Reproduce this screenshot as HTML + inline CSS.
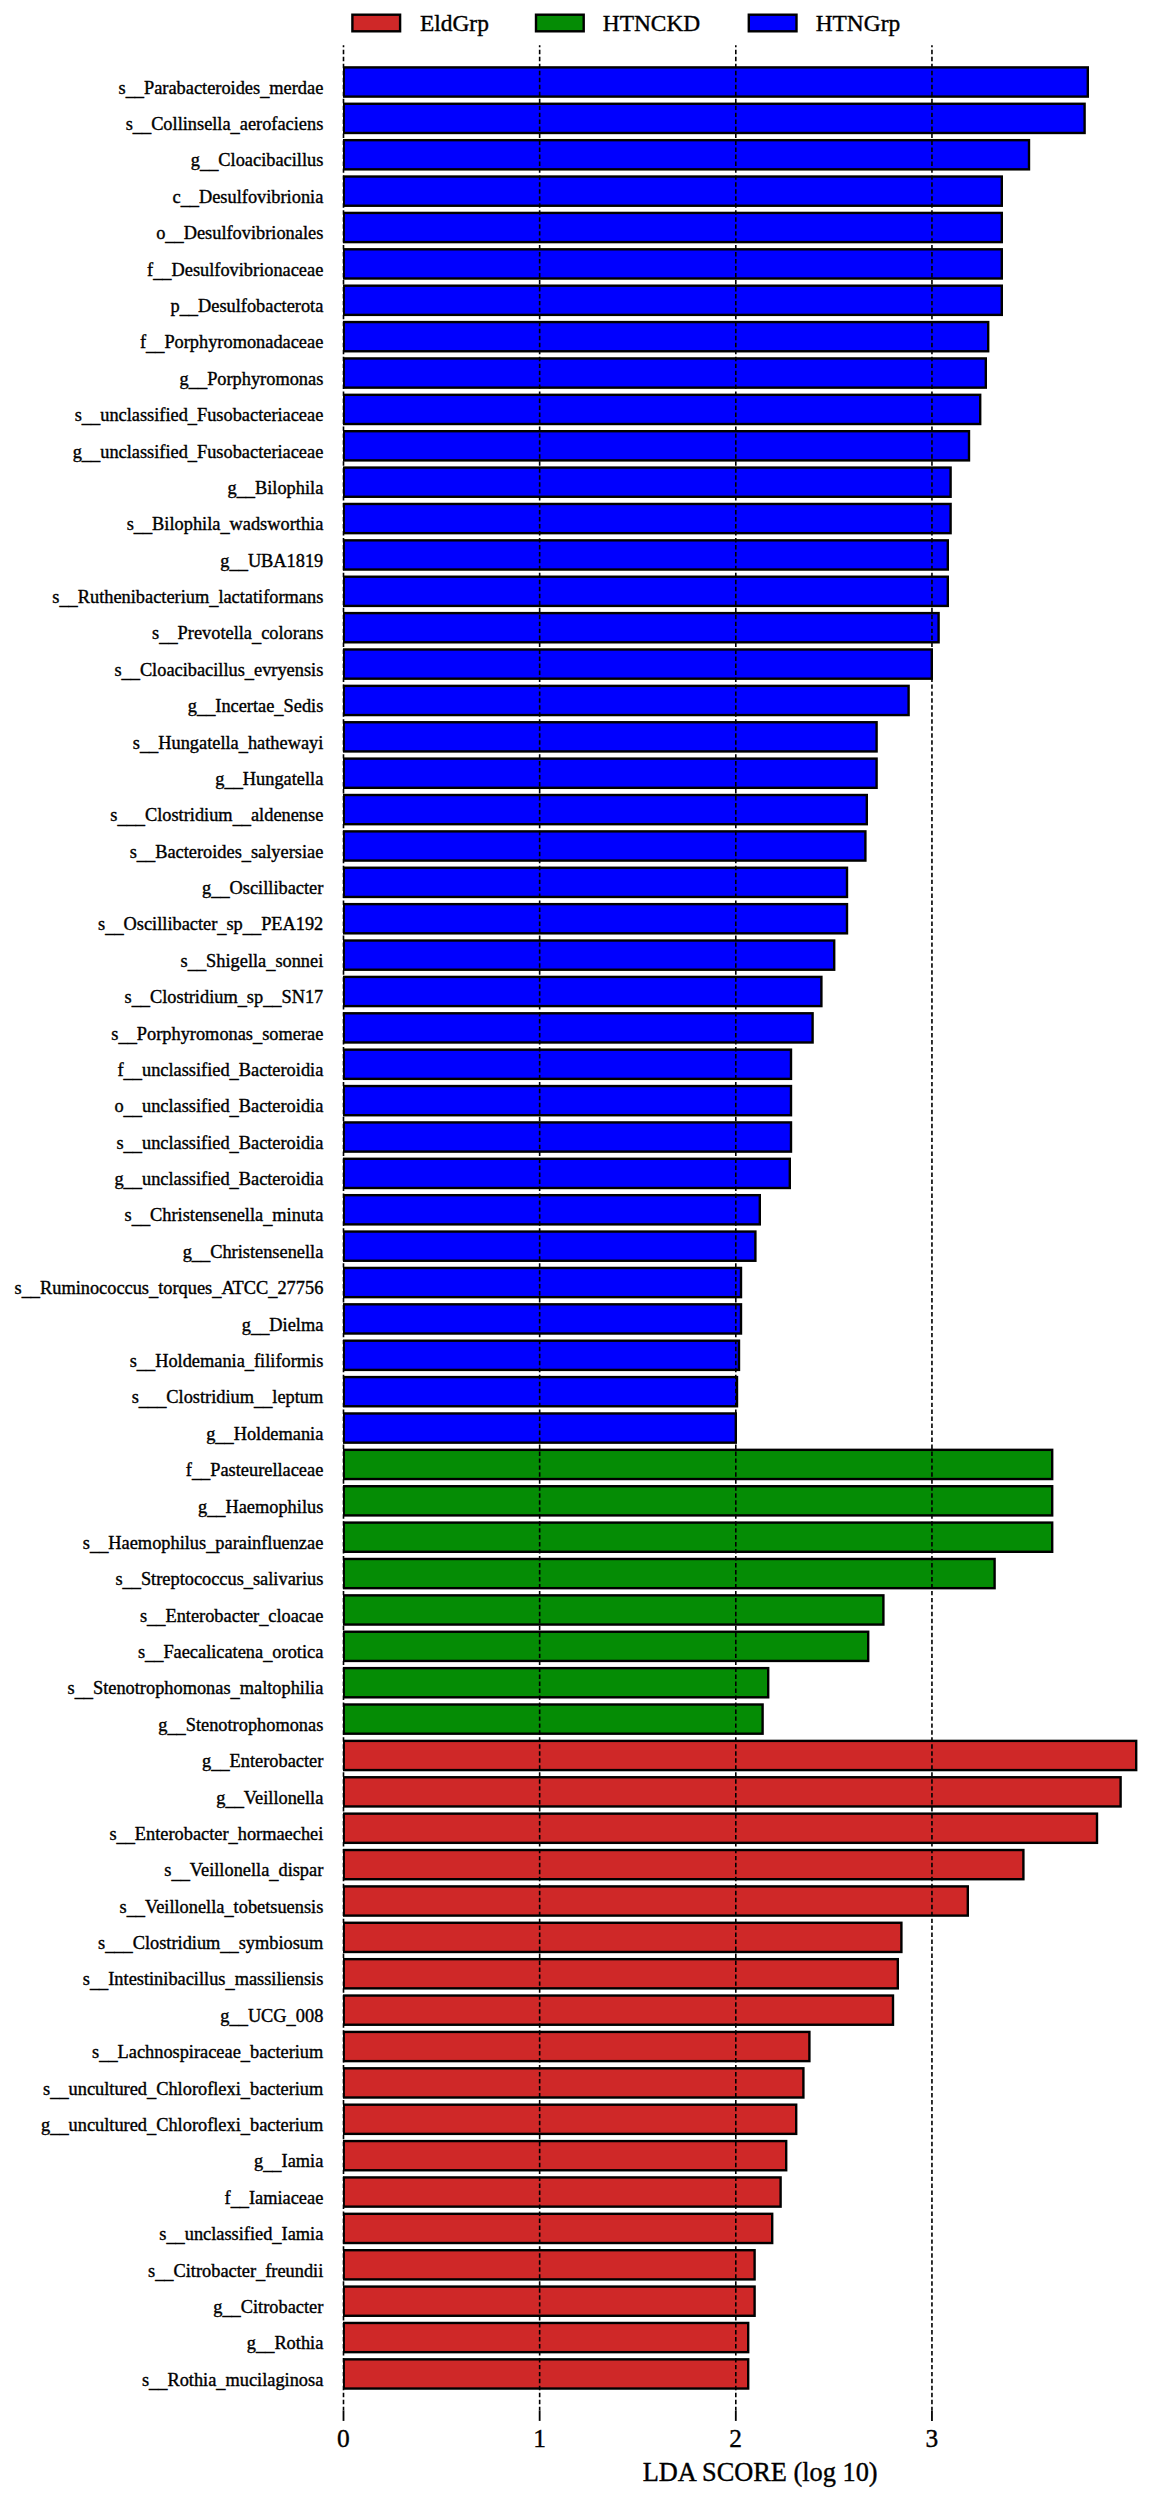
<!DOCTYPE html>
<html lang="en"><head><meta charset="utf-8"><title>LDA SCORE (log 10)</title>
<style>html,body{margin:0;padding:0;background:#fff}svg{display:block}text{font-family:"Liberation Serif","Times New Roman",serif;fill:#000;stroke:#000;stroke-width:.38}.l{font-size:18.35px;text-anchor:end}.t{font-size:25.4px;text-anchor:middle}.g{font-size:23.4px}.a{font-size:26.35px;text-anchor:middle}.b{stroke:#000;stroke-width:2.4}.d{stroke:#000;stroke-width:1.6;stroke-dasharray:4.45 2.523;stroke-dashoffset:2.4;fill:none}.k{stroke:#000;stroke-width:1.8}</style></head><body>
<svg width="1150" height="2500" viewBox="0 0 1150 2500">
<rect width="1150" height="2500" fill="#fff"/>
<defs><clipPath id="c"><rect x="343" y="0" width="810" height="2500"/></clipPath></defs><g clip-path="url(#c)">
<rect class="b" x="343.70" y="67.40" width="744.10" height="29.20" fill="#0000ff"/>
<rect class="b" x="343.70" y="103.78" width="740.90" height="29.20" fill="#0000ff"/>
<rect class="b" x="343.70" y="140.16" width="685.30" height="29.20" fill="#0000ff"/>
<rect class="b" x="343.70" y="176.54" width="658.10" height="29.20" fill="#0000ff"/>
<rect class="b" x="343.70" y="212.92" width="658.10" height="29.20" fill="#0000ff"/>
<rect class="b" x="343.70" y="249.30" width="658.10" height="29.20" fill="#0000ff"/>
<rect class="b" x="343.70" y="285.68" width="658.10" height="29.20" fill="#0000ff"/>
<rect class="b" x="343.70" y="322.06" width="644.50" height="29.20" fill="#0000ff"/>
<rect class="b" x="343.70" y="358.44" width="642.10" height="29.20" fill="#0000ff"/>
<rect class="b" x="343.70" y="394.82" width="636.50" height="29.20" fill="#0000ff"/>
<rect class="b" x="343.70" y="431.20" width="625.30" height="29.20" fill="#0000ff"/>
<rect class="b" x="343.70" y="467.58" width="606.90" height="29.20" fill="#0000ff"/>
<rect class="b" x="343.70" y="503.96" width="606.90" height="29.20" fill="#0000ff"/>
<rect class="b" x="343.70" y="540.34" width="604.10" height="29.20" fill="#0000ff"/>
<rect class="b" x="343.70" y="576.72" width="604.10" height="29.20" fill="#0000ff"/>
<rect class="b" x="343.70" y="613.10" width="594.90" height="29.20" fill="#0000ff"/>
<rect class="b" x="343.70" y="649.48" width="588.10" height="29.20" fill="#0000ff"/>
<rect class="b" x="343.70" y="685.86" width="564.90" height="29.20" fill="#0000ff"/>
<rect class="b" x="343.70" y="722.24" width="532.90" height="29.20" fill="#0000ff"/>
<rect class="b" x="343.70" y="758.62" width="532.90" height="29.20" fill="#0000ff"/>
<rect class="b" x="343.70" y="795.00" width="523.10" height="29.20" fill="#0000ff"/>
<rect class="b" x="343.70" y="831.38" width="521.70" height="29.20" fill="#0000ff"/>
<rect class="b" x="343.70" y="867.76" width="503.30" height="29.20" fill="#0000ff"/>
<rect class="b" x="343.70" y="904.14" width="503.30" height="29.20" fill="#0000ff"/>
<rect class="b" x="343.70" y="940.52" width="490.50" height="29.20" fill="#0000ff"/>
<rect class="b" x="343.70" y="976.90" width="477.70" height="29.20" fill="#0000ff"/>
<rect class="b" x="343.70" y="1013.28" width="468.90" height="29.20" fill="#0000ff"/>
<rect class="b" x="343.70" y="1049.66" width="447.30" height="29.20" fill="#0000ff"/>
<rect class="b" x="343.70" y="1086.04" width="447.30" height="29.20" fill="#0000ff"/>
<rect class="b" x="343.70" y="1122.42" width="447.30" height="29.20" fill="#0000ff"/>
<rect class="b" x="343.70" y="1158.80" width="446.10" height="29.20" fill="#0000ff"/>
<rect class="b" x="343.70" y="1195.18" width="416.10" height="29.20" fill="#0000ff"/>
<rect class="b" x="343.70" y="1231.56" width="411.70" height="29.20" fill="#0000ff"/>
<rect class="b" x="343.70" y="1267.94" width="397.30" height="29.20" fill="#0000ff"/>
<rect class="b" x="343.70" y="1304.32" width="397.30" height="29.20" fill="#0000ff"/>
<rect class="b" x="343.70" y="1340.70" width="395.30" height="29.20" fill="#0000ff"/>
<rect class="b" x="343.70" y="1377.08" width="393.30" height="29.20" fill="#0000ff"/>
<rect class="b" x="343.70" y="1413.46" width="392.10" height="29.20" fill="#0000ff"/>
<rect class="b" x="343.70" y="1449.84" width="708.50" height="29.20" fill="#058c05"/>
<rect class="b" x="343.70" y="1486.22" width="708.50" height="29.20" fill="#058c05"/>
<rect class="b" x="343.70" y="1522.60" width="708.50" height="29.20" fill="#058c05"/>
<rect class="b" x="343.70" y="1558.98" width="650.90" height="29.20" fill="#058c05"/>
<rect class="b" x="343.70" y="1595.36" width="539.70" height="29.20" fill="#058c05"/>
<rect class="b" x="343.70" y="1631.74" width="524.50" height="29.20" fill="#058c05"/>
<rect class="b" x="343.70" y="1668.12" width="424.50" height="29.20" fill="#058c05"/>
<rect class="b" x="343.70" y="1704.50" width="418.90" height="29.20" fill="#058c05"/>
<rect class="b" x="343.70" y="1740.88" width="792.50" height="29.20" fill="#cf2828"/>
<rect class="b" x="343.70" y="1777.26" width="776.90" height="29.20" fill="#cf2828"/>
<rect class="b" x="343.70" y="1813.64" width="753.30" height="29.20" fill="#cf2828"/>
<rect class="b" x="343.70" y="1850.02" width="679.70" height="29.20" fill="#cf2828"/>
<rect class="b" x="343.70" y="1886.40" width="624.10" height="29.20" fill="#cf2828"/>
<rect class="b" x="343.70" y="1922.78" width="557.70" height="29.20" fill="#cf2828"/>
<rect class="b" x="343.70" y="1959.16" width="554.10" height="29.20" fill="#cf2828"/>
<rect class="b" x="343.70" y="1995.54" width="549.30" height="29.20" fill="#cf2828"/>
<rect class="b" x="343.70" y="2031.92" width="465.70" height="29.20" fill="#cf2828"/>
<rect class="b" x="343.70" y="2068.30" width="459.70" height="29.20" fill="#cf2828"/>
<rect class="b" x="343.70" y="2104.68" width="452.50" height="29.20" fill="#cf2828"/>
<rect class="b" x="343.70" y="2141.06" width="442.50" height="29.20" fill="#cf2828"/>
<rect class="b" x="343.70" y="2177.44" width="436.90" height="29.20" fill="#cf2828"/>
<rect class="b" x="343.70" y="2213.82" width="428.50" height="29.20" fill="#cf2828"/>
<rect class="b" x="343.70" y="2250.20" width="410.90" height="29.20" fill="#cf2828"/>
<rect class="b" x="343.70" y="2286.58" width="410.90" height="29.20" fill="#cf2828"/>
<rect class="b" x="343.70" y="2322.96" width="404.50" height="29.20" fill="#cf2828"/>
<rect class="b" x="343.70" y="2359.34" width="404.50" height="29.20" fill="#cf2828"/>
</g>
<line class="d" x1="343.50" y1="45.3" x2="343.50" y2="2410.5"/>
<line class="k" x1="343.50" y1="2410.5" x2="343.50" y2="2420.9"/>
<text class="t" x="343.40" y="2446.9">0</text>
<line class="d" x1="539.65" y1="45.3" x2="539.65" y2="2410.5"/>
<line class="k" x1="539.65" y1="2410.5" x2="539.65" y2="2420.9"/>
<text class="t" x="539.55" y="2446.9">1</text>
<line class="d" x1="735.80" y1="45.3" x2="735.80" y2="2410.5"/>
<line class="k" x1="735.80" y1="2410.5" x2="735.80" y2="2420.9"/>
<text class="t" x="735.70" y="2446.9">2</text>
<line class="d" x1="931.95" y1="45.3" x2="931.95" y2="2410.5"/>
<line class="k" x1="931.95" y1="2410.5" x2="931.95" y2="2420.9"/>
<text class="t" x="931.85" y="2446.9">3</text>
<text class="l" x="323.3" y="93.70">s<tspan dy="2.2">__</tspan><tspan dy="-2.2">Parabacteroides</tspan><tspan dy="2.2">_</tspan><tspan dy="-2.2">merdae</tspan></text>
<text class="l" x="323.3" y="130.08">s<tspan dy="2.2">__</tspan><tspan dy="-2.2">Collinsella</tspan><tspan dy="2.2">_</tspan><tspan dy="-2.2">aerofaciens</tspan></text>
<text class="l" x="323.3" y="166.46">g<tspan dy="2.2">__</tspan><tspan dy="-2.2">Cloacibacillus</tspan></text>
<text class="l" x="323.3" y="202.84">c<tspan dy="2.2">__</tspan><tspan dy="-2.2">Desulfovibrionia</tspan></text>
<text class="l" x="323.3" y="239.22">o<tspan dy="2.2">__</tspan><tspan dy="-2.2">Desulfovibrionales</tspan></text>
<text class="l" x="323.3" y="275.60">f<tspan dy="2.2">__</tspan><tspan dy="-2.2">Desulfovibrionaceae</tspan></text>
<text class="l" x="323.3" y="311.98">p<tspan dy="2.2">__</tspan><tspan dy="-2.2">Desulfobacterota</tspan></text>
<text class="l" x="323.3" y="348.36">f<tspan dy="2.2">__</tspan><tspan dy="-2.2">Porphyromonadaceae</tspan></text>
<text class="l" x="323.3" y="384.74">g<tspan dy="2.2">__</tspan><tspan dy="-2.2">Porphyromonas</tspan></text>
<text class="l" x="323.3" y="421.12">s<tspan dy="2.2">__</tspan><tspan dy="-2.2">unclassified</tspan><tspan dy="2.2">_</tspan><tspan dy="-2.2">Fusobacteriaceae</tspan></text>
<text class="l" x="323.3" y="457.50">g<tspan dy="2.2">__</tspan><tspan dy="-2.2">unclassified</tspan><tspan dy="2.2">_</tspan><tspan dy="-2.2">Fusobacteriaceae</tspan></text>
<text class="l" x="323.3" y="493.88">g<tspan dy="2.2">__</tspan><tspan dy="-2.2">Bilophila</tspan></text>
<text class="l" x="323.3" y="530.26">s<tspan dy="2.2">__</tspan><tspan dy="-2.2">Bilophila</tspan><tspan dy="2.2">_</tspan><tspan dy="-2.2">wadsworthia</tspan></text>
<text class="l" x="323.3" y="566.64">g<tspan dy="2.2">__</tspan><tspan dy="-2.2">UBA1819</tspan></text>
<text class="l" x="323.3" y="603.02">s<tspan dy="2.2">__</tspan><tspan dy="-2.2">Ruthenibacterium</tspan><tspan dy="2.2">_</tspan><tspan dy="-2.2">lactatiformans</tspan></text>
<text class="l" x="323.3" y="639.40">s<tspan dy="2.2">__</tspan><tspan dy="-2.2">Prevotella</tspan><tspan dy="2.2">_</tspan><tspan dy="-2.2">colorans</tspan></text>
<text class="l" x="323.3" y="675.78">s<tspan dy="2.2">__</tspan><tspan dy="-2.2">Cloacibacillus</tspan><tspan dy="2.2">_</tspan><tspan dy="-2.2">evryensis</tspan></text>
<text class="l" x="323.3" y="712.16">g<tspan dy="2.2">__</tspan><tspan dy="-2.2">Incertae</tspan><tspan dy="2.2">_</tspan><tspan dy="-2.2">Sedis</tspan></text>
<text class="l" x="323.3" y="748.54">s<tspan dy="2.2">__</tspan><tspan dy="-2.2">Hungatella</tspan><tspan dy="2.2">_</tspan><tspan dy="-2.2">hathewayi</tspan></text>
<text class="l" x="323.3" y="784.92">g<tspan dy="2.2">__</tspan><tspan dy="-2.2">Hungatella</tspan></text>
<text class="l" x="323.3" y="821.30">s<tspan dy="2.2">___</tspan><tspan dy="-2.2">Clostridium</tspan><tspan dy="2.2">__</tspan><tspan dy="-2.2">aldenense</tspan></text>
<text class="l" x="323.3" y="857.68">s<tspan dy="2.2">__</tspan><tspan dy="-2.2">Bacteroides</tspan><tspan dy="2.2">_</tspan><tspan dy="-2.2">salyersiae</tspan></text>
<text class="l" x="323.3" y="894.06">g<tspan dy="2.2">__</tspan><tspan dy="-2.2">Oscillibacter</tspan></text>
<text class="l" x="323.3" y="930.44">s<tspan dy="2.2">__</tspan><tspan dy="-2.2">Oscillibacter</tspan><tspan dy="2.2">_</tspan><tspan dy="-2.2">sp</tspan><tspan dy="2.2">__</tspan><tspan dy="-2.2">PEA192</tspan></text>
<text class="l" x="323.3" y="966.82">s<tspan dy="2.2">__</tspan><tspan dy="-2.2">Shigella</tspan><tspan dy="2.2">_</tspan><tspan dy="-2.2">sonnei</tspan></text>
<text class="l" x="323.3" y="1003.20">s<tspan dy="2.2">__</tspan><tspan dy="-2.2">Clostridium</tspan><tspan dy="2.2">_</tspan><tspan dy="-2.2">sp</tspan><tspan dy="2.2">__</tspan><tspan dy="-2.2">SN17</tspan></text>
<text class="l" x="323.3" y="1039.58">s<tspan dy="2.2">__</tspan><tspan dy="-2.2">Porphyromonas</tspan><tspan dy="2.2">_</tspan><tspan dy="-2.2">somerae</tspan></text>
<text class="l" x="323.3" y="1075.96">f<tspan dy="2.2">__</tspan><tspan dy="-2.2">unclassified</tspan><tspan dy="2.2">_</tspan><tspan dy="-2.2">Bacteroidia</tspan></text>
<text class="l" x="323.3" y="1112.34">o<tspan dy="2.2">__</tspan><tspan dy="-2.2">unclassified</tspan><tspan dy="2.2">_</tspan><tspan dy="-2.2">Bacteroidia</tspan></text>
<text class="l" x="323.3" y="1148.72">s<tspan dy="2.2">__</tspan><tspan dy="-2.2">unclassified</tspan><tspan dy="2.2">_</tspan><tspan dy="-2.2">Bacteroidia</tspan></text>
<text class="l" x="323.3" y="1185.10">g<tspan dy="2.2">__</tspan><tspan dy="-2.2">unclassified</tspan><tspan dy="2.2">_</tspan><tspan dy="-2.2">Bacteroidia</tspan></text>
<text class="l" x="323.3" y="1221.48">s<tspan dy="2.2">__</tspan><tspan dy="-2.2">Christensenella</tspan><tspan dy="2.2">_</tspan><tspan dy="-2.2">minuta</tspan></text>
<text class="l" x="323.3" y="1257.86">g<tspan dy="2.2">__</tspan><tspan dy="-2.2">Christensenella</tspan></text>
<text class="l" x="323.3" y="1294.24">s<tspan dy="2.2">__</tspan><tspan dy="-2.2">Ruminococcus</tspan><tspan dy="2.2">_</tspan><tspan dy="-2.2">torques</tspan><tspan dy="2.2">_</tspan><tspan dy="-2.2">ATCC</tspan><tspan dy="2.2">_</tspan><tspan dy="-2.2">27756</tspan></text>
<text class="l" x="323.3" y="1330.62">g<tspan dy="2.2">__</tspan><tspan dy="-2.2">Dielma</tspan></text>
<text class="l" x="323.3" y="1367.00">s<tspan dy="2.2">__</tspan><tspan dy="-2.2">Holdemania</tspan><tspan dy="2.2">_</tspan><tspan dy="-2.2">filiformis</tspan></text>
<text class="l" x="323.3" y="1403.38">s<tspan dy="2.2">___</tspan><tspan dy="-2.2">Clostridium</tspan><tspan dy="2.2">__</tspan><tspan dy="-2.2">leptum</tspan></text>
<text class="l" x="323.3" y="1439.76">g<tspan dy="2.2">__</tspan><tspan dy="-2.2">Holdemania</tspan></text>
<text class="l" x="323.3" y="1476.14">f<tspan dy="2.2">__</tspan><tspan dy="-2.2">Pasteurellaceae</tspan></text>
<text class="l" x="323.3" y="1512.52">g<tspan dy="2.2">__</tspan><tspan dy="-2.2">Haemophilus</tspan></text>
<text class="l" x="323.3" y="1548.90">s<tspan dy="2.2">__</tspan><tspan dy="-2.2">Haemophilus</tspan><tspan dy="2.2">_</tspan><tspan dy="-2.2">parainfluenzae</tspan></text>
<text class="l" x="323.3" y="1585.28">s<tspan dy="2.2">__</tspan><tspan dy="-2.2">Streptococcus</tspan><tspan dy="2.2">_</tspan><tspan dy="-2.2">salivarius</tspan></text>
<text class="l" x="323.3" y="1621.66">s<tspan dy="2.2">__</tspan><tspan dy="-2.2">Enterobacter</tspan><tspan dy="2.2">_</tspan><tspan dy="-2.2">cloacae</tspan></text>
<text class="l" x="323.3" y="1658.04">s<tspan dy="2.2">__</tspan><tspan dy="-2.2">Faecalicatena</tspan><tspan dy="2.2">_</tspan><tspan dy="-2.2">orotica</tspan></text>
<text class="l" x="323.3" y="1694.42">s<tspan dy="2.2">__</tspan><tspan dy="-2.2">Stenotrophomonas</tspan><tspan dy="2.2">_</tspan><tspan dy="-2.2">maltophilia</tspan></text>
<text class="l" x="323.3" y="1730.80">g<tspan dy="2.2">__</tspan><tspan dy="-2.2">Stenotrophomonas</tspan></text>
<text class="l" x="323.3" y="1767.18">g<tspan dy="2.2">__</tspan><tspan dy="-2.2">Enterobacter</tspan></text>
<text class="l" x="323.3" y="1803.56">g<tspan dy="2.2">__</tspan><tspan dy="-2.2">Veillonella</tspan></text>
<text class="l" x="323.3" y="1839.94">s<tspan dy="2.2">__</tspan><tspan dy="-2.2">Enterobacter</tspan><tspan dy="2.2">_</tspan><tspan dy="-2.2">hormaechei</tspan></text>
<text class="l" x="323.3" y="1876.32">s<tspan dy="2.2">__</tspan><tspan dy="-2.2">Veillonella</tspan><tspan dy="2.2">_</tspan><tspan dy="-2.2">dispar</tspan></text>
<text class="l" x="323.3" y="1912.70">s<tspan dy="2.2">__</tspan><tspan dy="-2.2">Veillonella</tspan><tspan dy="2.2">_</tspan><tspan dy="-2.2">tobetsuensis</tspan></text>
<text class="l" x="323.3" y="1949.08">s<tspan dy="2.2">___</tspan><tspan dy="-2.2">Clostridium</tspan><tspan dy="2.2">__</tspan><tspan dy="-2.2">symbiosum</tspan></text>
<text class="l" x="323.3" y="1985.46">s<tspan dy="2.2">__</tspan><tspan dy="-2.2">Intestinibacillus</tspan><tspan dy="2.2">_</tspan><tspan dy="-2.2">massiliensis</tspan></text>
<text class="l" x="323.3" y="2021.84">g<tspan dy="2.2">__</tspan><tspan dy="-2.2">UCG</tspan><tspan dy="2.2">_</tspan><tspan dy="-2.2">008</tspan></text>
<text class="l" x="323.3" y="2058.22">s<tspan dy="2.2">__</tspan><tspan dy="-2.2">Lachnospiraceae</tspan><tspan dy="2.2">_</tspan><tspan dy="-2.2">bacterium</tspan></text>
<text class="l" x="323.3" y="2094.60">s<tspan dy="2.2">__</tspan><tspan dy="-2.2">uncultured</tspan><tspan dy="2.2">_</tspan><tspan dy="-2.2">Chloroflexi</tspan><tspan dy="2.2">_</tspan><tspan dy="-2.2">bacterium</tspan></text>
<text class="l" x="323.3" y="2130.98">g<tspan dy="2.2">__</tspan><tspan dy="-2.2">uncultured</tspan><tspan dy="2.2">_</tspan><tspan dy="-2.2">Chloroflexi</tspan><tspan dy="2.2">_</tspan><tspan dy="-2.2">bacterium</tspan></text>
<text class="l" x="323.3" y="2167.36">g<tspan dy="2.2">__</tspan><tspan dy="-2.2">Iamia</tspan></text>
<text class="l" x="323.3" y="2203.74">f<tspan dy="2.2">__</tspan><tspan dy="-2.2">Iamiaceae</tspan></text>
<text class="l" x="323.3" y="2240.12">s<tspan dy="2.2">__</tspan><tspan dy="-2.2">unclassified</tspan><tspan dy="2.2">_</tspan><tspan dy="-2.2">Iamia</tspan></text>
<text class="l" x="323.3" y="2276.50">s<tspan dy="2.2">__</tspan><tspan dy="-2.2">Citrobacter</tspan><tspan dy="2.2">_</tspan><tspan dy="-2.2">freundii</tspan></text>
<text class="l" x="323.3" y="2312.88">g<tspan dy="2.2">__</tspan><tspan dy="-2.2">Citrobacter</tspan></text>
<text class="l" x="323.3" y="2349.26">g<tspan dy="2.2">__</tspan><tspan dy="-2.2">Rothia</tspan></text>
<text class="l" x="323.3" y="2385.64">s<tspan dy="2.2">__</tspan><tspan dy="-2.2">Rothia</tspan><tspan dy="2.2">_</tspan><tspan dy="-2.2">mucilaginosa</tspan></text>
<rect class="b" x="352.4" y="14.7" width="47.7" height="16.6" fill="#cf2828"/>
<text class="g" x="420.0" y="30.6">EldGrp</text>
<rect class="b" x="536.0" y="14.7" width="47.7" height="16.6" fill="#058c05"/>
<text class="g" x="602.8" y="30.6">HTNCKD</text>
<rect class="b" x="748.8" y="14.7" width="47.7" height="16.6" fill="#0000ff"/>
<text class="g" x="815.7" y="30.6">HTNGrp</text>
<text class="a" x="760.2" y="2481.4">LDA SCORE (log 10)</text>
</svg></body></html>
